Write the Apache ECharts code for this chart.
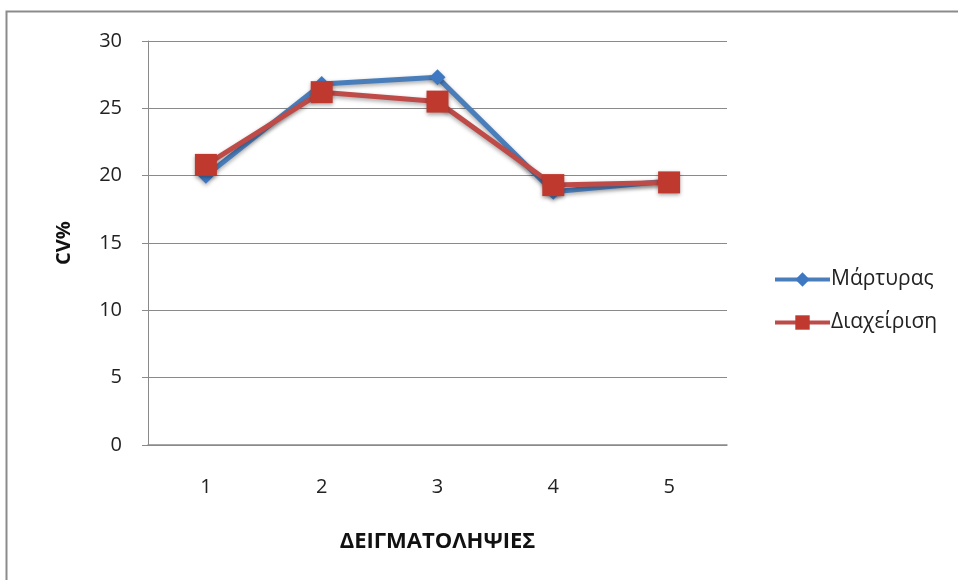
<!DOCTYPE html>
<html><head><meta charset="utf-8">
<script src="https://cdn.jsdelivr.net/npm/echarts@6/dist/echarts.min.js"></script>
<style>html,body{margin:0;padding:0;background:#fff}#c{width:958px;height:580px}</style>
</head><body><div id="c"></div>
<script>
const categories = ['1','2','3','4','5'];
const martyras = [20.0, 26.8, 27.3, 18.8, 19.6];
const diaxeirisi = [20.8, 26.2, 25.5, 19.3, 19.5];
const seriesNames = ['Μάρτυρας', 'Διαχείριση'];
const yTicks = {min: 0, max: 30, interval: 5};

const font = '"Open Sans", "Noto Sans", sans-serif';
const shadow = {shadowColor:'rgba(0,0,0,0.35)', shadowBlur:4, shadowOffsetY:2};
const chart = echarts.init(document.getElementById('c'));
chart.setOption({
  animation: false,
  graphic: [{type:'rect', shape:{x:6.5, y:11.5, width:1000, height:1000}, style:{fill:'none', stroke:'#8c8c8c', lineWidth:2}, silent:true}],
  grid: {left:148, right:231, top:41, bottom:135},
  legend: {
    orient:'vertical', left:768, top:264, itemGap:22, itemWidth:55, itemHeight:18,
    lineStyle:{width:4},
    textStyle:{fontFamily:font, fontSize:21, color:'#222', padding:[0,0,0,-4]},
    data: seriesNames
  },
  xAxis: {
    type:'category', data: categories, boundaryGap:true,
    name:'ΔΕΙΓΜΑΤΟΛΗΨΙΕΣ', nameLocation:'middle', nameGap:86,
    nameTextStyle:{fontFamily:font, fontSize:22, fontWeight:'bold', color:'#111'},
    axisLine:{lineStyle:{color:'#8a8a8a', width:1.5}},
    axisTick:{show:false},
    axisLabel:{fontFamily:font, fontSize:20, color:'#222', margin:32}
  },
  yAxis: {
    type:'value', min:yTicks.min, max:yTicks.max, interval:yTicks.interval,
    name:'CV%', nameLocation:'middle', nameGap:74, nameRotate:90,
    nameTextStyle:{fontFamily:font, fontSize:20, fontWeight:'bold', color:'#111'},
    axisLine:{show:true, lineStyle:{color:'#8a8a8a', width:1}},
    axisTick:{show:true, length:6, lineStyle:{color:'#8a8a8a'}},
    axisLabel:{fontFamily:font, fontSize:20, color:'#222', margin:26},
    splitLine:{lineStyle:{color:'#8a8a8a', width:1.2}}
  },
  series: [
    {name:seriesNames[0], type:'line', data:martyras, symbol:'diamond', symbolSize:16,
     lineStyle:Object.assign({color:'#4a7ebb', width:5}, shadow),
     itemStyle:Object.assign({color:'#3f78c2'}, shadow)},
    {name:seriesNames[1], type:'line', data:diaxeirisi, symbol:'rect', symbolSize:22,
     lineStyle:Object.assign({color:'#be4b48', width:5}, shadow),
     itemStyle:Object.assign({color:'#c0392f'}, shadow)}
  ]
});
</script></body></html>
